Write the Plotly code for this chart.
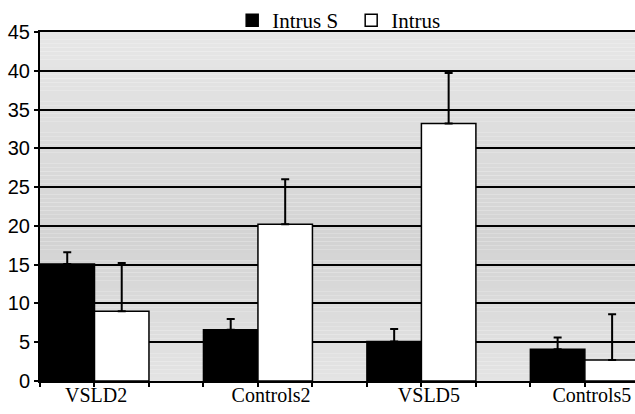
import plotly.graph_objects as go

# ---- data ----
categories = ["VSLD2", "Controls2", "VSLD5", "Controls5"]
intrus_s = [15.1, 6.6, 5.1, 4.1]
intrus_s_err = [1.5, 1.4, 1.6, 1.5]
intrus = [9.0, 20.2, 33.2, 2.7]
intrus_err = [6.2, 5.8, 6.5, 5.9]
y_ticks = [0, 5, 10, 15, 20, 25, 30, 35, 40, 45]

# ---- layout constants ----
W, H = 635, 414
ML, MR, MT, MB = 40, 0, 32, 33
label_nudge = [0.01, 0.08, 0.046, 0.043]
x_start = -1 / 3
x_end = x_start + 10.92 / 3

idx = list(range(len(categories)))

fig = go.Figure()
err_style = dict(type="data", symmetric=False, thickness=2, width=4, color="black")
fig.add_trace(go.Bar(
    name="Intrus S", x=idx, y=intrus_s,
    marker=dict(color="black", line=dict(color="black", width=1.5)),
    error_y=dict(array=intrus_s_err, arrayminus=[0] * len(idx), **err_style),
))
fig.add_trace(go.Bar(
    name="Intrus", x=idx, y=intrus,
    marker=dict(color="white", line=dict(color="black", width=1.5)),
    error_y=dict(array=intrus_err, arrayminus=[0] * len(idx), **err_style),
))
# invisible trace carrying the category labels on an overlay axis
fig.add_trace(go.Scatter(x=[i + n for i, n in zip(idx, label_nudge)], y=[0] * len(idx),
                         xaxis="x2", mode="markers", marker=dict(opacity=0),
                         showlegend=False, hoverinfo="skip"))

# gradient background bands
shapes = []
nb = 90
for k in range(nb):
    f = (k + 0.5) / nb  # 0 bottom, 1 top
    dark_at = 0.4
    if f < dark_at:
        t = f / dark_at
        c = 228 + (211 - 228) * t
    else:
        t = (f - dark_at) / (1 - dark_at)
        c = 211 + (231 - 211) * t
    c = int(round(c))
    shapes.append(dict(type="rect", xref="paper", yref="paper",
                       x0=0, x1=1, y0=k / nb, y1=(k + 1) / nb,
                       fillcolor=f"rgb({c},{c},{c})", line=dict(width=0), layer="below"))

tick_edges = [x_start + j / 3 for j in range(12)]

fig.update_layout(
    width=W, height=H,
    margin=dict(l=ML, r=MR, t=MT, b=MB, pad=0, autoexpand=False),
    paper_bgcolor="white", plot_bgcolor="rgba(0,0,0,0)",
    barmode="group", bargap=1 / 3, bargroupgap=0,
    shapes=shapes,
    showlegend=True,
    legend=dict(orientation="h", x=0.523, xanchor="center", xref="paper",
                y=1.0, yanchor="top", yref="container",
                entrywidth=74, entrywidthmode="pixels",
                font=dict(family="Liberation Serif", size=21, color="black"),
                bgcolor="rgba(0,0,0,0)", traceorder="normal"),
    xaxis=dict(range=[x_start, x_end], tickvals=tick_edges, ticktext=[""] * len(tick_edges),
               ticks="outside", ticklen=4, tickwidth=1.5, tickcolor="black",
               showgrid=False, zeroline=False, showline=True, linecolor="black", linewidth=2,
               mirror=True),
    xaxis2=dict(range=[x_start, x_end], overlaying="x", anchor="y", side="bottom",
                tickvals=[i + n for i, n in zip(idx, label_nudge)], ticktext=categories,
                ticks="", showgrid=False, zeroline=False, showline=False,
                tickfont=dict(family="Liberation Serif", size=20, color="black")),
    yaxis=dict(range=[0, 45], tickvals=y_ticks, ticks="outside", ticklen=4, tickwidth=1.5,
               tickcolor="black", showgrid=True, gridcolor="black", gridwidth=1.5,
               zeroline=False, showline=True, linecolor="black", linewidth=2,
               tickfont=dict(family="Liberation Sans", size=20, color="black")),
)

fig.write_html("out.html", config={"displayModeBar": False},
               post_script="document.body.style.margin='0px';document.body.style.overflow='hidden';")
